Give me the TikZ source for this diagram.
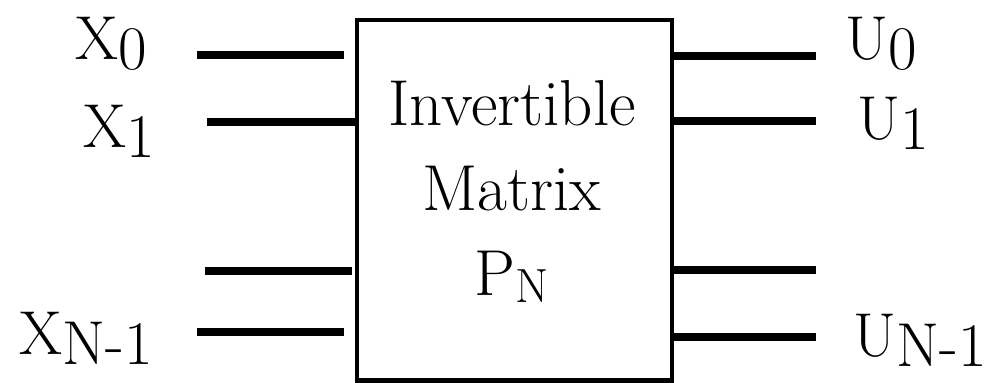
\documentclass[tikz,border=0pt]{standalone}
\usepackage{tikz}
\newcommand{\sublow}[1]{\raisebox{-5pt}{#1}}
\newcommand{\subsmall}[1]{\raisebox{-3.5pt}{\fontsize{24}{24}\selectfont #1}}
\begin{document}
\begin{tikzpicture}[
  x=0.5pt, y=-0.5pt,
  pin/.style={draw=black, line width=4pt},
  mbox/.style={draw=black, line width=2.25pt, minimum width=157.5pt, minimum height=180.25pt, inner sep=0pt},
  mtext/.style={align=center, inner sep=0pt, font=\fontsize{32.5}{42.5}\selectfont},
  sig/.style={inner sep=0pt, anchor=base west, font=\fontsize{31}{31}\selectfont}
]
\useasboundingbox (0,0) rectangle (1008,383);

% matrix block
\node[mbox] (pmat) at (514.5,200.25) {};
\node[mtext] (ptext) at (512,191) {Invertible\\Matrix\\P\subsmall{N}};

% inputs
\node[sig] (x0) at (75,60) {X\sublow{0}};
\node[sig] (x1) at (83,148) {X\sublow{1}};
\node[sig] (xn) at (19,355) {X\sublow{N-1}};

\coordinate (x0a) at (197,55);  \coordinate (x0b) at (344,55);
\coordinate (x1a) at (207,122); \coordinate (x1b) at (357,122);
\coordinate (x2a) at (205,271); \coordinate (x2b) at (352,271);
\coordinate (xna) at (197,332); \coordinate (xnb) at (344,332);

\draw[pin] (x0a) -- (x0b);
\draw[pin] (x1a) -- (x1b);
\draw[pin] (x2a) -- (x2b);
\draw[pin] (xna) -- (xnb);

% outputs
\node[sig] (u0) at (845,60) {U\sublow{0}};
\node[sig] (u1) at (857,140) {U\sublow{1}};
\node[sig] (un) at (853,357) {U\sublow{N-1}};

\coordinate (u0a) at (670,56);  \coordinate (u0b) at (816,56);
\coordinate (u1a) at (670,121); \coordinate (u1b) at (816,121);
\coordinate (u2a) at (670,270); \coordinate (u2b) at (816,270);
\coordinate (una) at (670,337); \coordinate (unb) at (816,337);

\draw[pin] (u0a) -- (u0b);
\draw[pin] (u1a) -- (u1b);
\draw[pin] (u2a) -- (u2b);
\draw[pin] (una) -- (unb);

\end{tikzpicture}
\end{document}
